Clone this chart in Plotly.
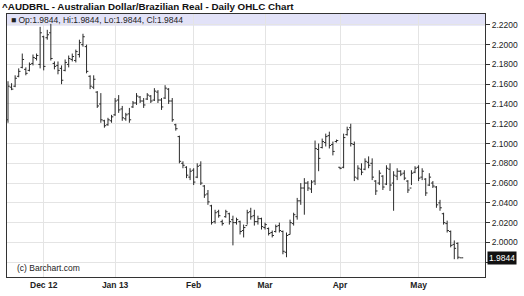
import pandas as pd
import plotly.graph_objects as go

# Trading days (category axis): Nov 19 2012 - May 17 2013, excluding Dec 25 and Jan 1
holidays = ["2012-12-25", "2013-01-01"]
dates = [d.strftime("%Y-%m-%d") for d in pd.bdate_range("2012-11-19", "2013-05-17")
         if d.strftime("%Y-%m-%d") not in holidays]

opens = [2.124, 2.157, 2.158, 2.168, 2.177, 2.175, 2.174, 2.181, 2.186, 2.180,
         2.208, 2.207, 2.212, 2.181, 2.179, 2.176, 2.174, 2.180, 2.185, 2.184,
         2.190, 2.200, 2.198, 2.168, 2.157, 2.152, 2.140, 2.123, 2.119, 2.123,
         2.129, 2.144, 2.135, 2.125, 2.130, 2.137, 2.141, 2.147, 2.143, 2.145,
         2.148, 2.144, 2.152, 2.144, 2.146, 2.155, 2.143, 2.119, 2.107, 2.080,
         2.076, 2.066,
         2.073, 2.066, 2.078, 2.057, 2.049, 2.037, 2.021, 2.031, 2.021, 2.026,
         2.029, 2.023, 2.020, 2.021, 2.012, 2.017, 2.031, 2.027, 2.021, 2.024,
         2.015, 2.014, 2.010, 2.011, 2.017, 2.011, 1.990, 2.008, 2.019, 2.026,
         2.042, 2.055, 2.060, 2.054, 2.062, 2.094, 2.096, 2.101, 2.108, 2.099,
         2.102,
         2.076, 2.076, 2.109, 2.116, 2.099, 2.065, 2.074, 2.074, 2.081, 2.080,
         2.062, 2.060, 2.067, 2.059, 2.074, 2.060, 2.067, 2.072, 2.070, 2.062,
         2.055, 2.071,
         2.076, 2.066, 2.064, 2.058, 2.060, 2.056, 2.040, 2.029, 2.019, 2.011,
         1.998, 1.999, 1.9844]
highs = [2.163, 2.161, 2.169, 2.176, 2.191, 2.177, 2.182, 2.190, 2.191, 2.218,
         2.209, 2.215, 2.221, 2.183, 2.183, 2.179, 2.185, 2.189, 2.191, 2.195,
         2.205, 2.211, 2.200, 2.169, 2.169, 2.153, 2.151, 2.124, 2.126, 2.129,
         2.146, 2.149, 2.138, 2.131, 2.136, 2.143, 2.151, 2.148, 2.146, 2.151,
         2.149, 2.156, 2.154, 2.146, 2.159, 2.156, 2.146, 2.120, 2.108, 2.082,
         2.077, 2.075,
         2.075, 2.080, 2.082, 2.058, 2.053, 2.038, 2.033, 2.033, 2.023, 2.033,
         2.030, 2.027, 2.025, 2.022, 2.018, 2.033, 2.035, 2.033, 2.027, 2.025,
         2.020, 2.015, 2.012, 2.018, 2.020, 2.012, 2.010, 2.023, 2.030, 2.045,
         2.060, 2.065, 2.062, 2.063, 2.103, 2.100, 2.105, 2.110, 2.112, 2.102,
         2.104,
         2.076, 2.110, 2.117, 2.120, 2.102, 2.078, 2.080, 2.085, 2.087, 2.085,
         2.063, 2.073, 2.068, 2.078, 2.080, 2.072, 2.075, 2.073, 2.073, 2.063,
         2.073, 2.077,
         2.078, 2.075, 2.065, 2.070, 2.062, 2.057, 2.043, 2.030, 2.022, 2.012,
         2.002, 2.000, 1.9844]
lows = [2.121, 2.154, 2.157, 2.167, 2.176, 2.169, 2.173, 2.179, 2.184, 2.176,
        2.174, 2.205, 2.184, 2.175, 2.170, 2.160, 2.173, 2.177, 2.183, 2.182,
        2.187, 2.198, 2.171, 2.155, 2.155, 2.136, 2.121, 2.116, 2.118, 2.121,
        2.128, 2.131, 2.123, 2.123, 2.121, 2.136, 2.139, 2.141, 2.136, 2.144,
        2.141, 2.143, 2.141, 2.134, 2.145, 2.140, 2.122, 2.113, 2.080, 2.075,
        2.065, 2.063,
        2.058, 2.065, 2.058, 2.045, 2.038, 2.018, 2.019, 2.025, 2.017, 2.025,
        2.018, 1.997, 2.018, 2.008, 2.005, 2.018, 2.023, 2.017, 2.018, 2.013,
        2.013, 2.007, 2.005, 2.010, 2.010, 1.988, 1.985, 2.008, 2.017, 2.023,
        2.038, 2.028, 2.052, 2.050, 2.058, 2.072, 2.095, 2.097, 2.095, 2.088,
        2.101,
        2.074, 2.075, 2.108, 2.097, 2.062, 2.063, 2.068, 2.073, 2.075, 2.063,
        2.048, 2.058, 2.053, 2.058, 2.052, 2.032, 2.063, 2.067, 2.063, 2.050,
        2.058, 2.070,
        2.062, 2.063, 2.047, 2.057, 2.055, 2.035, 2.032, 2.018, 2.010, 1.995,
        1.983, 1.983, 1.9844]
closes = [2.158, 2.155, 2.166, 2.173, 2.185, 2.171, 2.180, 2.187, 2.189, 2.212,
          2.178, 2.210, 2.186, 2.178, 2.174, 2.164, 2.182, 2.186, 2.188, 2.193,
          2.202, 2.208, 2.173, 2.158, 2.165, 2.138, 2.124, 2.118, 2.124, 2.127,
          2.143, 2.134, 2.126, 2.129, 2.124, 2.141, 2.148, 2.143, 2.139, 2.149,
          2.143, 2.153, 2.144, 2.137, 2.156, 2.143, 2.124, 2.115, 2.082, 2.078,
          2.068, 2.072,
          2.061, 2.077, 2.060, 2.048, 2.041, 2.020, 2.030, 2.027, 2.019, 2.031,
          2.021, 2.020, 2.023, 2.011, 2.015, 2.030, 2.026, 2.021, 2.024, 2.016,
          2.018, 2.009, 2.007, 2.016, 2.012, 1.991, 2.007, 2.020, 2.028, 2.042,
          2.055, 2.060, 2.055, 2.061, 2.095, 2.085, 2.102, 2.107, 2.098, 2.092,
          2.103,
          2.075, 2.106, 2.114, 2.100, 2.066, 2.075, 2.071, 2.082, 2.078, 2.066,
          2.052, 2.070, 2.056, 2.075, 2.058, 2.068, 2.072, 2.069, 2.065, 2.053,
          2.070, 2.075,
          2.065, 2.072, 2.050, 2.066, 2.057, 2.038, 2.035, 2.020, 2.012, 1.997,
          1.994, 1.985, 1.9844]

month_starts = ["2012-12-03", "2013-01-02", "2013-02-01", "2013-03-01", "2013-04-01", "2013-05-01"]
month_labels = ["Dec 12", "Jan 13", "Feb", "Mar", "Apr", "May"]
price_ticks = [1.98, 2.00, 2.02, 2.04, 2.06, 2.08, 2.10, 2.12, 2.14, 2.16, 2.18, 2.20, 2.22]
price_labels = [""] + ["%.4f" % v for v in price_ticks[1:]]
last_price = 1.9844

FONT = "Liberation Sans, Arial, sans-serif"
BAR = "#2a2a2a"

fig = go.Figure(go.Ohlc(
    x=dates, open=opens, high=highs, low=lows, close=closes,
    increasing=dict(line=dict(color=BAR, width=1)),
    decreasing=dict(line=dict(color=BAR, width=1)),
    tickwidth=0.5, hoverinfo="skip", showlegend=False,
))

fig.update_layout(
    width=524, height=296,
    margin=dict(l=6, r=36, t=14, b=16),
    paper_bgcolor="white", plot_bgcolor="white",
    font=dict(family=FONT, size=8, color="#222"),
    showlegend=False,
    title=dict(text="<b>^AUDBRL - Australian Dollar/Brazilian Real - Daily OHLC Chart</b>",
               x=0.004, xanchor="left", y=0.978, yanchor="middle",
               font=dict(family=FONT, size=9.8, color="#111")),
    xaxis=dict(type="category", categoryorder="array", categoryarray=dates,
               range=[-0.28, 133.6], rangeslider=dict(visible=False),
               tickvals=month_starts, ticktext=["<b>%s</b>" % t for t in month_labels],
               tickfont=dict(family=FONT, size=8.5, color="#222"),
               showgrid=True, gridcolor="#e4e4e4", gridwidth=1,
               showline=True, linecolor="#333", linewidth=1, mirror=True,
               ticks="", zeroline=False, fixedrange=True),
    yaxis=dict(side="right", range=[1.965, 2.231],
               tickvals=price_ticks, ticktext=price_labels,
               tickfont=dict(family=FONT, size=8.5, color="#222"),
               showgrid=True, gridcolor="#e4e4e4", gridwidth=1,
               showline=True, linecolor="#333", linewidth=1, mirror=True,
               ticks="outside", ticklen=4, tickcolor="#333",
               zeroline=False, fixedrange=True),
    shapes=[dict(type="rect", xref="x domain", yref="y domain",
                 x0=0, x1=1, y0=1 - 12 / 266, y1=1,
                 fillcolor="#e2e2f8", line=dict(width=0), layer="below")],
    annotations=[
        dict(text="\u25a0 Op:1.9844, Hi:1.9844, Lo:1.9844, Cl:1.9844",
             xref="paper", yref="paper", x=0.004, xanchor="left",
             y=1 - 6 / 266, yanchor="middle", showarrow=False,
             font=dict(family=FONT, size=8.5, color="#222")),
        dict(text="(c) Barchart.com", xref="paper", yref="paper",
             x=0.017, xanchor="left", y=9 / 266, yanchor="middle", showarrow=False,
             font=dict(family=FONT, size=8.5, color="#222")),
        dict(text="%.4f" % last_price, xref="paper", yref="y",
             x=1, xanchor="left", xshift=2, y=last_price, yanchor="middle",
             showarrow=False, bgcolor="#111", borderpad=1,
             font=dict(family=FONT, size=8.5, color="white")),
    ],
)

fig.write_html("out.html")
